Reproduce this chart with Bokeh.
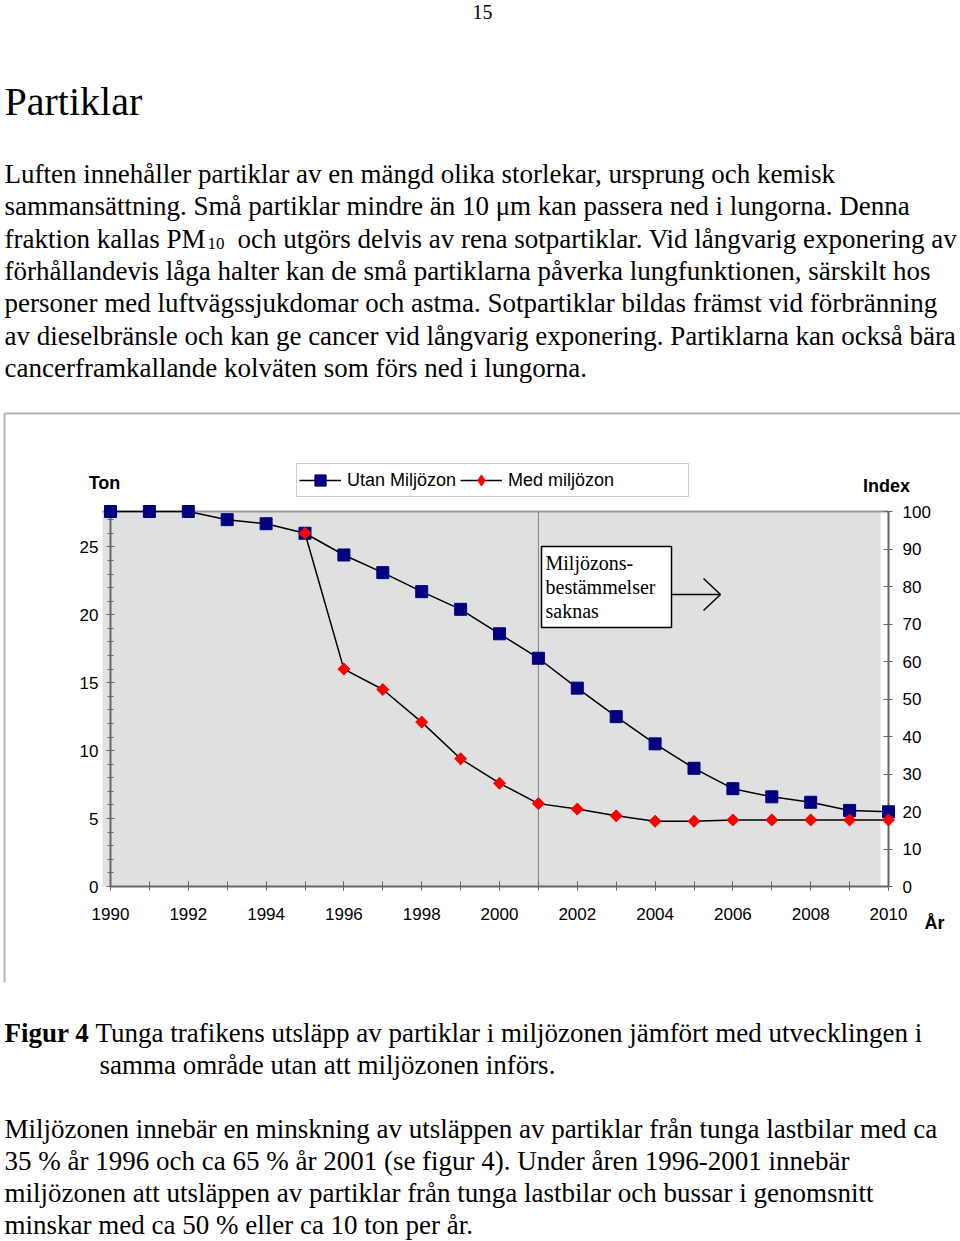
import numpy as np
from bokeh.plotting import figure
from bokeh.models import (Range1d, LinearAxis, SingleIntervalTicker, Label, Grid,
                          BoxAnnotation, Arrow, Legend, LegendItem)
from bokeh.embed import file_html
from bokeh.resources import INLINE

# ---------------- data ----------------
years = list(range(1990, 2011))
utan_miljozon = [27.6, 27.6, 27.6, 27.0, 26.7, 26.0, 24.4, 23.1, 21.7, 20.4, 18.6,
                 16.8, 14.6, 12.5, 10.5, 8.7, 7.2, 6.6, 6.2, 5.6, 5.5]
med_years = list(range(1995, 2011))
med_miljozon = [26.0, 16.0, 14.5, 12.1, 9.4, 7.6, 6.1, 5.7, 5.2, 4.8, 4.8,
                4.9, 4.9, 4.9, 4.9, 4.9]
series_names = ["Utan Miljözon", "Med miljözon"]
ton_max = 27.6          # = index 100
index_max = 100
regulation_year = 2001  # vertical marker line

page_number = "15"
heading = "Partiklar"
para1 = [
    "Luften innehåller partiklar av en mängd olika storlekar, ursprung och kemisk",
    "sammansättning. Små partiklar mindre än 10 μm kan passera ned i lungorna. Denna",
    None,
    "förhållandevis låga halter kan de små partiklarna påverka lungfunktionen, särskilt hos",
    "personer med luftvägssjukdomar och astma. Sotpartiklar bildas främst vid förbränning",
    "av dieselbränsle och kan ge cancer vid långvarig exponering. Partiklarna kan också bära",
    "cancerframkallande kolväten som förs ned i lungorna.",
]
pm_line = ["fraktion kallas PM", "10", "och utgörs delvis av rena sotpartiklar. Vid långvarig exponering av"]
box_text = ["Miljözons-", "bestämmelser", "saknas"]
caption_bold = "Figur 4"
caption_lines = ["Tunga trafikens utsläpp av partiklar i miljözonen jämfört med utvecklingen i",
                 "samma område utan att miljözonen införs."]
para2 = [
    "Miljözonen innebär en minskning av utsläppen av partiklar från tunga lastbilar med ca",
    "35 % år 1996 och ca 65 % år 2001 (se figur 4). Under åren 1996-2001 innebär",
    "miljözonen att utsläppen av partiklar från tunga lastbilar och bussar i genomsnitt",
    "minskar med ca 50 % eller ca 10 ton per år.",
]
axis_titles = ["Ton", "Index", "År"]

SERIF = "Liberation Serif"
SANS = "Liberation Sans"
W, H = 960, 1241
ABS = {"position": "absolute", "left": "0px", "top": "0px"}

# chart frame (axes) on the page, pixels
FL, FR, FT, FB = 110, 888, 511, 886
# wider transparent frame for the data marks (so edge markers are not clipped)
DL, DR, DT, DB = 94, 904, 458, 902


def drop_grids(fig):
    fig.center = [r for r in fig.center if not isinstance(r, Grid)]


# ================= page text layer =================
T = figure(width=W, height=H, x_range=Range1d(0, W), y_range=Range1d(H, 0),
           x_axis_location=None, y_axis_location=None, toolbar_location=None,
           output_backend="svg", min_border=0, background_fill_color=None,
           border_fill_color=None, outline_line_color=None, styles=ABS)
T.title.visible = False
drop_grids(T)


def lab(px, py, text, font=SERIF, size="27px", style="normal", align="left",
        baseline="alphabetic"):
    T.add_layout(Label(x=px, y=py, text=text, text_font=font, text_font_size=size,
                       text_font_style=style, text_align=align,
                       text_baseline=baseline, text_color="black"))


def seg(x0, y0, x1, y1, color, width):
    T.add_layout(Arrow(start=None, end=None, x_start=x0, y_start=y0, x_end=x1,
                       y_end=y1, line_color=color, line_width=width))


# gray plot area
T.add_layout(BoxAnnotation(left=102, right=880, top=FT, bottom=FB,
                           fill_color="#e0e0e0", fill_alpha=1, line_alpha=0,
                           level="underlay"))
seg(102, FT, FR, FT, "#9a9a9a", 2)
# outer chart border
seg(4, 413, 960, 413, "#b4b4b4", 2)
seg(4, 413, 4, 982, "#b4b4b4", 2)

# annotation box with arrow
T.add_layout(BoxAnnotation(left=541, right=671, top=546, bottom=627,
                           fill_color="white", fill_alpha=1, line_color="black",
                           line_alpha=1, line_width=1.5))
for i, t in enumerate(box_text):
    lab(545, 562 + 24 * i, t, size="20px")
seg(671, 594, 720, 594, "black", 1.5)
seg(703, 578, 720, 594, "black", 1.5)
seg(703, 610, 720, 594, "black", 1.5)

lab(104, 482, axis_titles[0], font=SANS, size="18px", style="bold", align="center",
    baseline="middle")
lab(886, 485, axis_titles[1], font=SANS, size="18px", style="bold", align="center",
    baseline="middle")
lab(934, 922, axis_titles[2], font=SANS, size="18px", style="bold", align="center",
    baseline="middle")

lab(482, 11.5, page_number, size="20px", align="center")
lab(4, 101, heading, size="40px")
for i, t in enumerate(para1):
    base = 173.5 + 32.3 * i
    if t is None:
        lab(4, base, pm_line[0])
        lab(207, base + 5, pm_line[1], size="17px")
        lab(237, base, pm_line[2])
    else:
        lab(4, base, t)

lab(4, 1032, caption_bold, style="bold")
lab(95, 1032, caption_lines[0])
lab(99, 1064, caption_lines[1])
for i, t in enumerate(para2):
    lab(4, 1128 + 32 * i, t)

# ================= axes layer =================
A = figure(width=W, height=H, x_range=Range1d(years[0], years[-1]),
           y_range=Range1d(0, ton_max), output_backend="svg", toolbar_location=None,
           min_border_left=FL, min_border_right=W - FR, min_border_top=FT,
           min_border_bottom=H - FB, background_fill_color=None,
           border_fill_color=None, outline_line_color=None, styles=ABS)
drop_grids(A)
A.extra_y_ranges = {"index": Range1d(0, index_max)}
right_axis = LinearAxis(y_range_name="index")
A.add_layout(right_axis, "right")

AX = "#666666"
for ax in [A.xaxis[0], A.yaxis[0], right_axis]:
    ax.axis_line_color = AX
    ax.axis_line_width = 2
    ax.major_tick_line_color = AX
    ax.minor_tick_line_color = AX
    ax.major_label_text_font = SANS
    ax.major_label_text_font_size = "17px"
    ax.major_label_text_color = "black"

A.xaxis[0].ticker = SingleIntervalTicker(interval=2, num_minor_ticks=2)
A.xaxis[0].major_tick_in = 5
A.xaxis[0].major_tick_out = 4
A.xaxis[0].minor_tick_in = 5
A.xaxis[0].minor_tick_out = 4
A.xaxis[0].major_label_standoff = 17

A.yaxis[0].ticker = SingleIntervalTicker(interval=5, num_minor_ticks=5)
A.yaxis[0].major_tick_in = 4
A.yaxis[0].major_tick_out = 4
A.yaxis[0].minor_tick_in = 3
A.yaxis[0].minor_tick_out = 3
A.yaxis[0].major_label_standoff = 8

right_axis.ticker = SingleIntervalTicker(interval=10, num_minor_ticks=0)
right_axis.major_tick_in = 5
right_axis.major_tick_out = 4
right_axis.minor_tick_line_color = None
right_axis.major_label_standoff = 10

A.segment(x0=[regulation_year], y0=[0], x1=[regulation_year], y1=[ton_max],
          line_color="#808080", line_width=1)

# ================= data layer =================
ppy = (FR - FL) / (years[-1] - years[0])
ppt = (FB - FT) / ton_max
D = figure(width=W, height=H,
           x_range=Range1d(years[0] - (FL - DL) / ppy, years[-1] + (DR - FR) / ppy),
           y_range=Range1d(-(DB - FB) / ppt, ton_max + (FT - DT) / ppt),
           x_axis_location=None, y_axis_location=None, toolbar_location=None,
           output_backend="svg", min_border_left=DL, min_border_right=W - DR,
           min_border_top=DT, min_border_bottom=H - DB, background_fill_color=None,
           border_fill_color=None, outline_line_color=None, styles=ABS)
drop_grids(D)

l1 = D.line(years, utan_miljozon, line_color="black", line_width=1.5)
s1 = D.scatter(years, utan_miljozon, marker="square", size=12, fill_color="#000080",
               line_color="#000080")
l2 = D.line(med_years, med_miljozon, line_color="black", line_width=1.5)
# diamond key for the legend (the legend does not rotate markers); it lies
# underneath the rotated squares drawn next
s2_key = D.scatter(med_years, med_miljozon, marker="diamond", size=11,
                   fill_color="#ff0000", line_color="#ff0000")
s2 = D.scatter(med_years, med_miljozon, marker="square", angle=np.pi / 4, size=8.5,
               fill_color="#ff0000", line_color="#ff0000")
pad_key = D.scatter(x=[], y=[], marker="square", size=1, fill_alpha=0, line_alpha=0)

legend = Legend(items=[LegendItem(label=series_names[0], renderers=[l1, s1]),
                       LegendItem(label=series_names[1], renderers=[l2, s2_key]),
                       LegendItem(label=" ", renderers=[pad_key])],
                orientation="horizontal", location=(296 - DL, DB - 497),
                glyph_width=42, glyph_height=28, label_standoff=6, spacing=4,
                padding=2, margin=0, label_text_font=SANS, label_height=20,
                label_text_font_size="18px", label_text_color="black",
                border_line_color="#a0a0a0", border_line_width=1,
                background_fill_color="white", background_fill_alpha=1)
D.add_layout(legend)

open("out.html", "w").write(file_html([T, A, D], INLINE))
